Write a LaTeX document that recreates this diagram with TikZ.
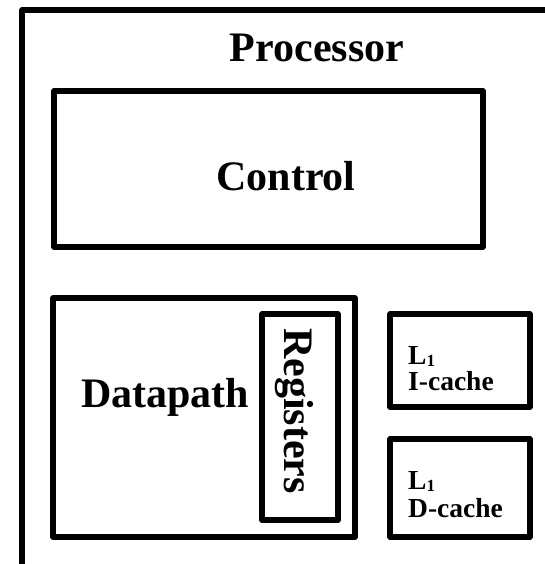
\documentclass[tikz,border=0pt]{standalone}
\usepackage{fontspec}
\setmainfont{Liberation Serif}
\newcommand{\subone}{\smash{\raisebox{-2pt}{\fontsize{17}{17}\selectfont 1}}}
\begin{document}
\begin{tikzpicture}[x=1pt,y=-1pt,
  boxline/.style={draw=black,line width=5.5pt,line join=round},
  bigtxt/.style={inner sep=0pt,font=\fontsize{42}{44}\selectfont\bfseries},
  ltxt/.style={inner sep=0pt,anchor=base west,text depth=0pt,
    font=\fontsize{27.5}{29}\selectfont\bfseries},
  cachetxt/.style={inner sep=0pt,anchor=base west,text height=19pt,
    font=\fontsize{27.5}{29}\selectfont\bfseries}]
\useasboundingbox (0,0) rectangle (545,564);
\clip (0,0) rectangle (545,564);
% outer processor frame (open to right and bottom)
\coordinate (fbl) at (22,570);
\coordinate (ftl) at (22,10);
\coordinate (ftr) at (560,10);
\draw[boxline] (fbl) -- (ftl) -- (ftr);
\node[bigtxt,anchor=base] (proc) at (317,62) {Processor};
% control
\draw[boxline] (54,91) rectangle (483,247);
\node[bigtxt,anchor=base] (ctrl) at (286,190) {Control};
% datapath
\draw[boxline] (53,298) rectangle (355,537);
\node[bigtxt,anchor=base west] (dp) at (81,407) {Datapath};
% registers
\draw[boxline] (262,314) rectangle (338,520);
\node[bigtxt,rotate=-90] (reg) at (294,411) {Registers};
% caches
\draw[boxline] (390,314) rectangle (530,407);
\node[ltxt] (l1i) at (408,364) {L\subone};
\node[cachetxt] (icache) at (408,390) {I-cache};
\draw[boxline] (390,439) rectangle (530,537);
\node[ltxt] (l1d) at (408,489) {L\subone};
\node[cachetxt] (dcache) at (408,517) {D-cache};
\end{tikzpicture}
\end{document}
